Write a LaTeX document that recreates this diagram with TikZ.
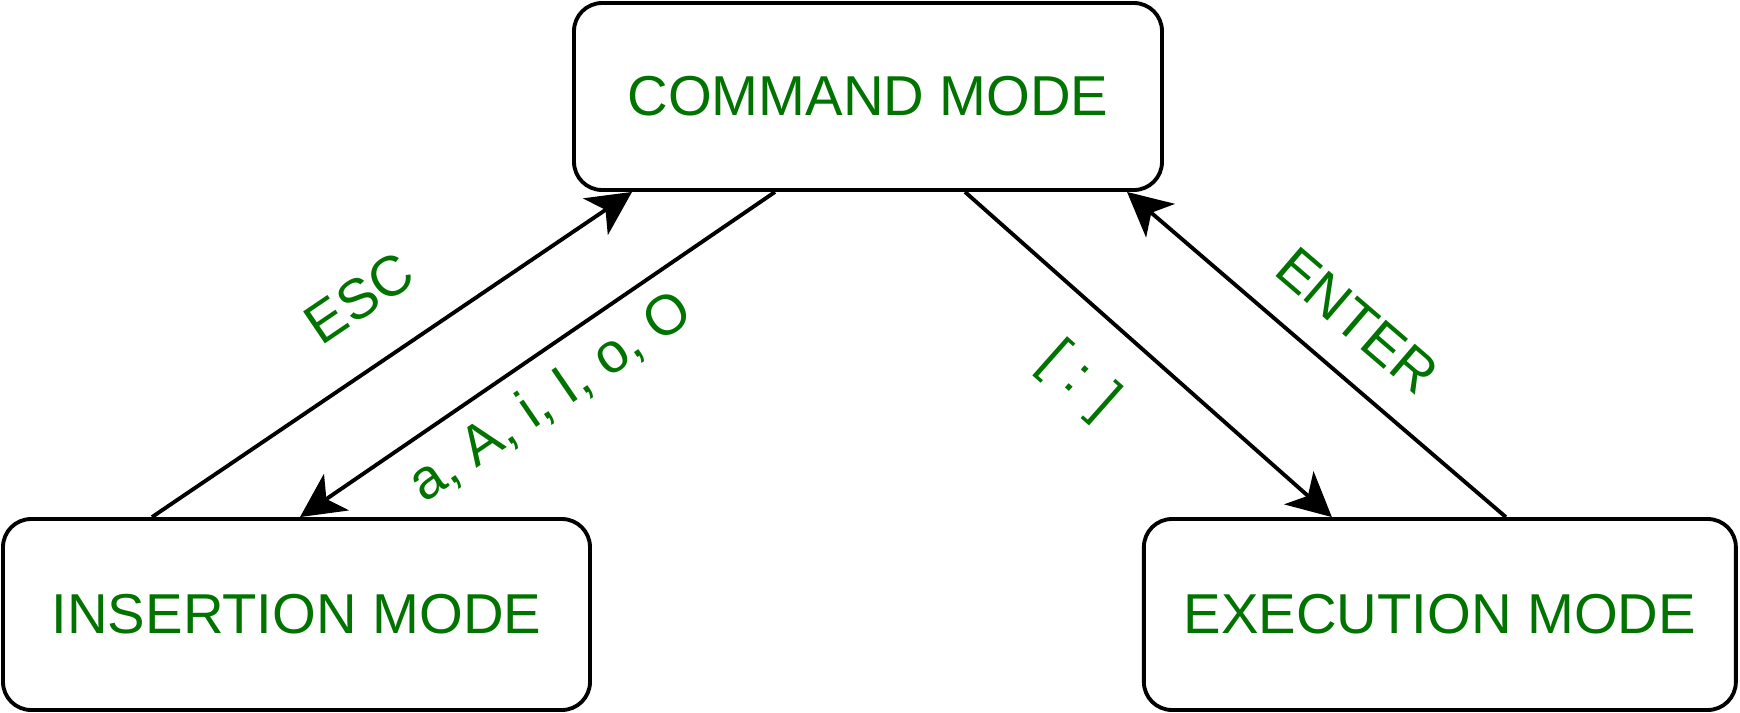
\documentclass[tikz,border=0pt]{standalone}
\usepackage{fontspec}
\setmainfont{Liberation Sans}
\usepackage{tikz}
\usetikzlibrary{arrows.meta,positioning}
\definecolor{vimgreen}{RGB}{0,115,0}
\tikzset{
  modebox/.style={rectangle,rounded corners=8pt,draw=black,line width=1.1pt,fill=white,
                  minimum width=#1,minimum height=1.91cm,text=vimgreen,
                  font=\fontsize{16}{19}\selectfont},
  modebox/.default=5.88cm,
  lbl/.style={sloped,inner sep=0pt,text=vimgreen,font=\fontsize{16}{19}\selectfont},
  arr/.style={-{Stealth[length=0.44cm,width=0.44cm,inset=0.12cm]},line width=1.1pt},
}
\begin{document}
\begin{tikzpicture}
        \useasboundingbox (0,0) rectangle (17.4,7.12);

        % die drei Modi
        \node[modebox=5.88cm, minimum height=1.87cm] (cmd) at (8.68,6.155) {COMMAND MODE};
        \node[modebox=5.87cm] (ins) at (2.965,0.975) {INSERTION MODE};
        \node[modebox=5.92cm, right=5.5cm of ins] (exe) {EXECUTION MODE};

        % Uebergaenge
        \draw[arr] ([xshift=-1.445cm]ins.north) -- node[lbl, above=0.43cm, pos=0.507] (esc) {ESC} ([xshift=-2.36cm]cmd.south);
        \draw[arr] ([xshift=-0.93cm]cmd.south) -- node[lbl, below=0.17cm, pos=0.523] (ins key) {a, A, i, I, o, O} ([xshift=0.035cm]ins.north);
        \draw[arr] ([xshift=0.97cm]cmd.south) -- node[lbl, below=0.38cm, pos=0.429] (colon) {[ : ]} ([xshift=-1.08cm]exe.north);
        \draw[arr] ([xshift=0.66cm]exe.north) -- node[lbl, above=0.31cm, pos=0.482] (enter) {ENTER} ([xshift=2.59cm]cmd.south);
\end{tikzpicture}
\end{document}
